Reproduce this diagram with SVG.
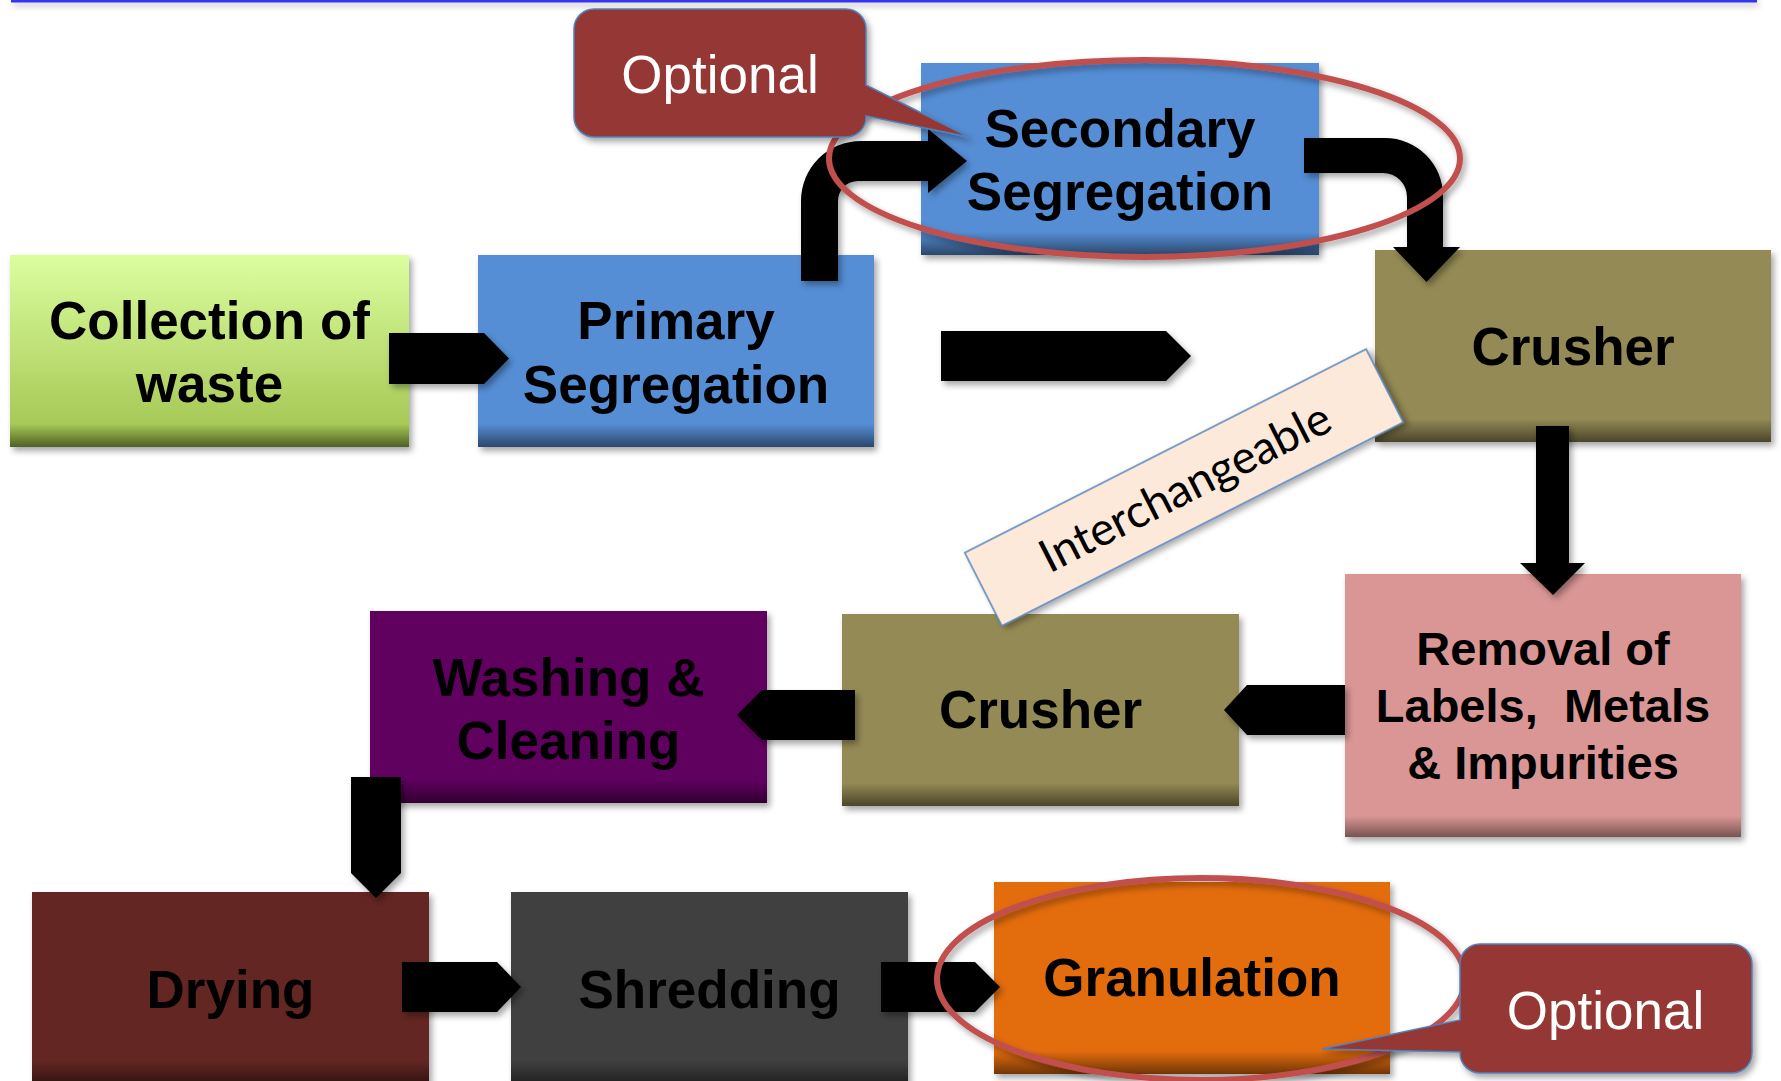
<svg xmlns="http://www.w3.org/2000/svg" width="1781" height="1081" viewBox="0 0 1781 1081">
<defs>
<style>
.lbl{font-family:"Liberation Sans",Arial,sans-serif;font-weight:bold;font-size:53px;text-anchor:middle;fill:#000}
.sm{font-size:47px}
.opt{font-family:"Liberation Sans",Arial,sans-serif;font-size:53px;text-anchor:middle;fill:#fff}
.box{filter:url(#sh)}
.bev{fill:url(#bev)}
.arr{fill:#000;filter:url(#sh)}
.ring{fill:none;stroke:#c0504d;stroke-width:6;filter:url(#sh)}
.call{fill:#953735;stroke:#4f81bd;stroke-width:1.5;filter:url(#sh)}
</style>
<filter id="sh" x="-10%" y="-10%" width="130%" height="130%">
<feDropShadow dx="3" dy="4" stdDeviation="3" flood-color="#000" flood-opacity="0.35"/>
</filter>
<filter id="shu" filterUnits="userSpaceOnUse" x="0" y="-10" width="1781" height="30">
<feDropShadow dx="2" dy="3" stdDeviation="3" flood-color="#000" flood-opacity="0.35"/>
</filter>
<linearGradient id="bev" x1="0" y1="0" x2="0" y2="1">
<stop offset="0.88" stop-color="#000" stop-opacity="0"/>
<stop offset="1" stop-color="#000" stop-opacity="0.5"/>
</linearGradient>
<linearGradient id="bev2" x1="0" y1="0" x2="0" y2="1">
<stop offset="0.92" stop-color="#000" stop-opacity="0"/>
<stop offset="1" stop-color="#000" stop-opacity="0.45"/>
</linearGradient>
<linearGradient id="gCol" x1="0" y1="0" x2="0" y2="1">
<stop offset="0" stop-color="#dcfe9f"/>
<stop offset="1" stop-color="#a0c24d"/>
</linearGradient>
</defs>
<rect width="1781" height="1081" fill="#fff"/>
<rect x="11" y="0" width="1746" height="2.5" fill="#3535f0" filter="url(#shu)"/>

<g id="collection">
<rect class="box" x="10" y="255" width="399" height="192" fill="url(#gCol)"/>
<rect class="bev" x="10" y="255" width="399" height="192"/>
<text class="lbl" x="209.5" y="339">Collection of</text>
<text class="lbl" x="209.5" y="402">waste</text>
</g>
<g id="primary">
<rect class="box" x="478" y="255" width="396" height="192" fill="#558ed5"/>
<rect class="bev" x="478" y="255" width="396" height="192"/>
<text class="lbl" x="676" y="339">Primary</text>
<text class="lbl" x="676" y="403">Segregation</text>
</g>
<g id="secondary">
<rect class="box" x="921" y="63" width="398" height="192" fill="#558ed5"/>
<rect class="bev" x="921" y="63" width="398" height="192"/>
<text class="lbl" x="1120" y="147">Secondary</text>
<text class="lbl" x="1120" y="210">Segregation</text>
</g>
<g id="crusher1">
<rect class="box" x="1375" y="250" width="396" height="192" fill="#948a54"/>
<rect class="bev" x="1375" y="250" width="396" height="192"/>
<text class="lbl" x="1573" y="365">Crusher</text>
</g>
<g id="removal">
<rect class="box" x="1345" y="574" width="396" height="263" fill="#d99694"/>
<rect x="1345" y="574" width="396" height="263" fill="url(#bev2)"/>
<text class="lbl sm" x="1543" y="665">Removal of</text>
<text class="lbl sm" x="1543" y="722" xml:space="preserve">Labels,  Metals</text>
<text class="lbl sm" x="1543" y="779">&amp; Impurities</text>
</g>
<g id="crusher2">
<rect class="box" x="842" y="614" width="397" height="192" fill="#948a54"/>
<rect class="bev" x="842" y="614" width="397" height="192"/>
<text class="lbl" x="1040.5" y="728">Crusher</text>
</g>
<g id="washing">
<rect class="box" x="370" y="611" width="397" height="192" fill="#60005f"/>
<rect class="bev" x="370" y="611" width="397" height="192"/>
<text class="lbl" x="568.5" y="695.5">Washing &amp;</text>
<text class="lbl" x="568.5" y="759">Cleaning</text>
</g>
<g id="drying">
<rect class="box" x="32" y="892" width="397" height="192" fill="#632523"/>
<rect class="bev" x="32" y="892" width="397" height="192"/>
<text class="lbl" x="230.5" y="1008">Drying</text>
</g>
<g id="shredding">
<rect class="box" x="511" y="892" width="397" height="192" fill="#3f3f3f"/>
<rect class="bev" x="511" y="892" width="397" height="192"/>
<text class="lbl" x="709.5" y="1008">Shredding</text>
</g>
<g id="granulation">
<rect class="box" x="994" y="882" width="396" height="192" fill="#e36c0a"/>
<rect class="bev" x="994" y="882" width="396" height="192"/>
<text class="lbl" x="1192" y="996">Granulation</text>
</g>

<g id="connectors">
<polygon class="arr" points="389,333 484,333 509,358.5 484,384 389,384"/>
<path class="arr" d="M801,281 V201 A60,60 0 0 1 861,141 H928 V129 L967,161 L928,193 V181 H858 A20,20 0 0 0 838,201 V281 Z"/>
<path class="arr" d="M1304,138 H1385 A58,58 0 0 1 1443,196 V247 H1460 L1426.5,282 L1393,247 H1407 V197 A24,24 0 0 0 1383,173 H1304 Z"/>
<polygon class="arr" points="941,331 1166,331 1191,356 1166,381 941,381"/>
<polygon class="arr" points="1536,426 1569,426 1569,563 1585,563 1553,595 1520,563 1536,563"/>
<polygon class="arr" points="1345,685 1247,685 1224,710 1247,735 1345,735"/>
<polygon class="arr" points="855,690 762,690 737,715 762,740 855,740"/>
<polygon class="arr" points="351,777 401,777 401,873 376,898 351,873"/>
<polygon class="arr" points="402,962 497,962 521,987 497,1012 402,1012"/>
<polygon class="arr" points="881,962 975,962 1000,987 975,1012 881,1012"/>
</g>

<g id="optional-rings">
<ellipse class="ring" cx="1144.5" cy="158.5" rx="315.5" ry="98.5"/>
<ellipse class="ring" cx="1201" cy="979" rx="264" ry="101"/>
</g>

<g id="interchangeable" transform="translate(1184,487.5) rotate(-26.9)">
<rect x="-225" y="-41" width="450" height="82" fill="#fde9d9" stroke="#4f81bd" stroke-width="1.5" filter="url(#sh)"/>
<text x="1" y="16" font-family="Lato,Carlito,'Open Sans',sans-serif" font-size="46" text-anchor="middle" fill="#000" textLength="320">Interchangeable</text>
</g>

<g id="optional-top">
<path class="call" d="M594,9 H846 A20,20 0 0 1 866,29 V85 L969,137 L866,116 V117 A20,20 0 0 1 846,137 H594 A20,20 0 0 1 574,117 V29 A20,20 0 0 1 594,9 Z"/>
<text class="opt" x="720" y="93">Optional</text>
</g>
<g id="optional-bottom">
<path class="call" d="M1480,944 H1732 A20,20 0 0 1 1752,964 V1053 A20,20 0 0 1 1732,1073 H1480 A20,20 0 0 1 1460,1053 V1052 L1322,1049 L1460,1020 V964 A20,20 0 0 1 1480,944 Z"/>
<text class="opt" x="1605.5" y="1029">Optional</text>
</g>
</svg>
